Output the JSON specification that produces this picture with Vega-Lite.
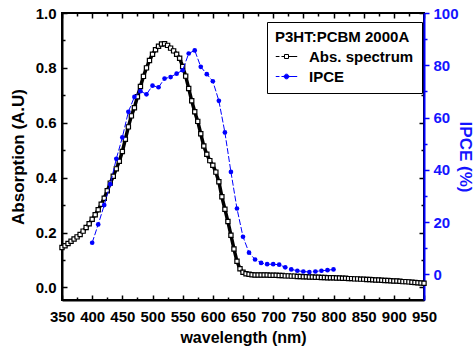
{
 "$schema": "https://vega.github.io/schema/vega-lite/v6.json",
 "width": 362, "height": 287,
 "autosize": "none",
 "padding": {"left": 62, "top": 13, "right": 50, "bottom": 47},
 "background": "white",
 "config": {
  "view": {"stroke": "black", "strokeWidth": 2},
  "font": "Liberation Sans",
  "axis": {"grid": false, "labelFont": "Liberation Sans", "labelFontSize": 15, "labelFontWeight": "bold", "labelColor": "black", "titleFont": "Liberation Sans", "titleFontWeight": "bold", "titleColor": "black", "domainColor": "black", "domainWidth": 2, "tickColor": "black", "tickWidth": 1.5},
  "legend": {"symbolType": {"expr": "datum.value === 'IPCE' ? 'M-1.6,0H-1.05M-0.75,0H1.6M0.35,0A0.35,0.35,0,1,1,-0.35,0A0.35,0.35,0,1,1,0.35,0Z' : 'M-1.6,0H-1.05M-0.75,0H-0.3M0.3,0H1.6M-0.3,-0.3H0.3V0.3H-0.3Z'"}}
 },
 "datasets": {
  "abs": [
   {"wl":350,"a":0.145},{"wl":355,"a":0.152},{"wl":360,"a":0.160},{"wl":365,"a":0.168},{"wl":370,"a":0.176},{"wl":375,"a":0.184},{"wl":380,"a":0.193},{"wl":385,"a":0.205},{"wl":390,"a":0.218},{"wl":395,"a":0.232},
   {"wl":400,"a":0.248},{"wl":405,"a":0.265},{"wl":410,"a":0.283},{"wl":415,"a":0.303},{"wl":420,"a":0.325},{"wl":425,"a":0.352},{"wl":430,"a":0.380},{"wl":435,"a":0.405},{"wl":440,"a":0.432},{"wl":445,"a":0.460},
   {"wl":450,"a":0.495},{"wl":455,"a":0.540},{"wl":460,"a":0.585},{"wl":465,"a":0.625},{"wl":470,"a":0.655},{"wl":475,"a":0.695},{"wl":480,"a":0.732},{"wl":485,"a":0.769},{"wl":490,"a":0.800},{"wl":495,"a":0.827},
   {"wl":500,"a":0.850},{"wl":505,"a":0.866},{"wl":510,"a":0.879},{"wl":515,"a":0.887},{"wl":520,"a":0.888},{"wl":525,"a":0.882},{"wl":530,"a":0.872},{"wl":535,"a":0.862},{"wl":540,"a":0.850},{"wl":545,"a":0.835},
   {"wl":550,"a":0.805},{"wl":555,"a":0.770},{"wl":560,"a":0.725},{"wl":565,"a":0.680},{"wl":570,"a":0.640},{"wl":575,"a":0.605},{"wl":580,"a":0.560},{"wl":585,"a":0.515},{"wl":590,"a":0.485},{"wl":595,"a":0.462},
   {"wl":600,"a":0.445},{"wl":605,"a":0.420},{"wl":610,"a":0.385},{"wl":615,"a":0.330},{"wl":620,"a":0.285},{"wl":625,"a":0.240},{"wl":630,"a":0.190},{"wl":635,"a":0.140},{"wl":640,"a":0.095},{"wl":645,"a":0.068},
   {"wl":650,"a":0.055},{"wl":655,"a":0.050},{"wl":660,"a":0.048},{"wl":665,"a":0.046},{"wl":670,"a":0.045},{"wl":675,"a":0.045},{"wl":680,"a":0.045},{"wl":685,"a":0.045},{"wl":690,"a":0.045},{"wl":695,"a":0.044},
   {"wl":700,"a":0.044},{"wl":705,"a":0.044},{"wl":710,"a":0.043},{"wl":715,"a":0.043},{"wl":720,"a":0.042},{"wl":725,"a":0.042},{"wl":730,"a":0.041},{"wl":735,"a":0.041},{"wl":740,"a":0.040},{"wl":745,"a":0.040},
   {"wl":750,"a":0.039},{"wl":755,"a":0.039},{"wl":760,"a":0.038},{"wl":765,"a":0.038},{"wl":770,"a":0.037},{"wl":775,"a":0.037},{"wl":780,"a":0.036},{"wl":785,"a":0.036},{"wl":790,"a":0.035},{"wl":795,"a":0.035},
   {"wl":800,"a":0.035},{"wl":805,"a":0.034},{"wl":810,"a":0.034},{"wl":815,"a":0.033},{"wl":820,"a":0.033},{"wl":825,"a":0.032},{"wl":830,"a":0.032},{"wl":835,"a":0.031},{"wl":840,"a":0.031},{"wl":845,"a":0.030},
   {"wl":850,"a":0.030},{"wl":855,"a":0.029},{"wl":860,"a":0.029},{"wl":865,"a":0.028},{"wl":870,"a":0.027},{"wl":875,"a":0.027},{"wl":880,"a":0.026},{"wl":885,"a":0.025},{"wl":890,"a":0.025},{"wl":895,"a":0.024},
   {"wl":900,"a":0.023},{"wl":905,"a":0.023},{"wl":910,"a":0.022},{"wl":915,"a":0.021},{"wl":920,"a":0.021},{"wl":925,"a":0.020},{"wl":930,"a":0.019},{"wl":935,"a":0.018},{"wl":940,"a":0.017},{"wl":945,"a":0.016},
   {"wl":950,"a":0.015}
  ],
  "ipce": [
   {"wl":400,"p":12.1},{"wl":410,"p":19.1},{"wl":420,"p":26.5},{"wl":430,"p":34.5},{"wl":440,"p":44.2},{"wl":450,"p":52.4},{"wl":460,"p":62.2},{"wl":470,"p":67.9},{"wl":480,"p":70.1},{"wl":490,"p":68.9},
   {"wl":500,"p":72.2},{"wl":510,"p":71.6},{"wl":520,"p":74.9},{"wl":530,"p":75.5},{"wl":540,"p":76.8},{"wl":550,"p":78.1},{"wl":560,"p":84.5},{"wl":570,"p":85.7},{"wl":580,"p":79.4},{"wl":590,"p":76.6},
   {"wl":600,"p":73.9},{"wl":610,"p":66.4},{"wl":620,"p":54.3},{"wl":630,"p":39.2},{"wl":640,"p":25.2},{"wl":650,"p":14.4},{"wl":660,"p":8.3},{"wl":670,"p":5.7},{"wl":680,"p":4.4},{"wl":690,"p":3.9},
   {"wl":700,"p":3.9},{"wl":710,"p":3.7},{"wl":720,"p":2.7},{"wl":730,"p":1.9},{"wl":740,"p":1.4},{"wl":750,"p":1.1},{"wl":760,"p":0.9},{"wl":770,"p":1.1},{"wl":780,"p":1.4},{"wl":790,"p":1.6},
   {"wl":800,"p":1.9}
  ]
 },
 "layer": [
  {
   "data": {"name": "abs"},
   "mark": {"type": "line", "color": "black", "strokeWidth": 3.5},
   "encoding": {
    "x": {"field": "wl", "type": "quantitative", "scale": {"domain": [350, 950], "nice": false, "zero": false},
     "axis": {"orient": "bottom", "title": "wavelength (nm)", "titleFontSize": 16, "titlePadding": 5, "values": [350,400,450,500,550,600,650,700,750,800,850,900,950], "tickSize": -5, "labelPadding": 14, "labelFlush": false, "labelOverlap": false}},
    "y": {"field": "a", "type": "quantitative", "scale": {"domain": [-0.046, 1.0], "nice": false, "zero": false},
     "axis": {"orient": "left", "title": "Absorption (A.U)", "titleFontSize": 17, "titlePadding": 8, "values": [0, 0.2, 0.4, 0.6, 0.8, 1.0], "format": ".1f", "tickSize": -5, "labelPadding": 11, "labelFlush": false, "labelOverlap": false}}
   }
  },
  {
   "data": {"name": "abs"},
   "transform": [{"calculate": "'Abs. spectrum'", "as": "series"}],
   "mark": {"type": "point", "shape": "square", "filled": false, "size": 18, "strokeWidth": 1.2, "opacity": 1},
   "encoding": {
    "x": {"field": "wl", "type": "quantitative", "scale": {"domain": [350, 950], "nice": false, "zero": false},
     "axis": {"orient": "bottom", "title": null, "values": [375,425,475,525,575,625,675,725,775,825,875,925], "tickSize": -3, "labels": false, "domain": false}},
    "y": {"field": "a", "type": "quantitative", "scale": {"domain": [-0.046, 1.0], "nice": false, "zero": false},
     "axis": {"orient": "left", "title": null, "values": [0.1, 0.3, 0.5, 0.7, 0.9], "tickSize": -3, "labels": false, "domain": false}},
    "fill": {"field": "series", "type": "nominal", "scale": {"domain": ["Abs. spectrum", "IPCE"], "range": ["white", "#0000ff"]},
     "legend": {"title": "P3HT:PCBM 2000A", "orient": "none", "legendX": 205, "legendY": 9, "strokeColor": "black", "fillColor": "white", "padding": 8, "titleFont": "Liberation Sans", "titleFontSize": 15, "titleFontWeight": "bold", "titleColor": "black", "titlePadding": 4, "labelFont": "Liberation Sans", "labelFontSize": 15, "labelFontWeight": "bold", "labelColor": "black", "symbolSize": 180, "symbolOffset": 4, "labelOffset": 15, "rowPadding": 4, "symbolStrokeWidth": 1}},
    "stroke": {"field": "series", "type": "nominal", "scale": {"domain": ["Abs. spectrum", "IPCE"], "range": ["black", "#0000ff"]},
     "legend": {"title": "P3HT:PCBM 2000A", "orient": "none", "legendX": 205, "legendY": 9, "strokeColor": "black", "fillColor": "white", "padding": 8, "titleFont": "Liberation Sans", "titleFontSize": 15, "titleFontWeight": "bold", "titleColor": "black", "titlePadding": 4, "labelFont": "Liberation Sans", "labelFontSize": 15, "labelFontWeight": "bold", "labelColor": "black", "symbolSize": 180, "symbolOffset": 4, "labelOffset": 15, "rowPadding": 4, "symbolStrokeWidth": 1}}
   }
  },
  {
   "data": {"name": "abs"},
   "mark": {"type": "point", "opacity": 0},
   "encoding": {
    "x": {"field": "wl", "type": "quantitative", "scale": {"domain": [350, 950], "nice": false, "zero": false},
     "axis": {"orient": "top", "title": null, "values": [350,400,450,500,550,600,650,700,750,800,850,900,950], "tickSize": -5, "labels": false, "domain": false}},
    "y": {"field": "a", "type": "quantitative", "scale": {"domain": [-0.046, 1.0], "nice": false, "zero": false},
     "axis": {"orient": "right", "title": null, "values": [0, 0.2, 0.4, 0.6, 0.8, 1.0], "tickSize": -5, "labels": false, "domain": false}}
   }
  },
  {
   "data": {"name": "abs"},
   "mark": {"type": "point", "opacity": 0},
   "encoding": {
    "x": {"field": "wl", "type": "quantitative", "scale": {"domain": [350, 950], "nice": false, "zero": false},
     "axis": {"orient": "top", "title": null, "values": [375,425,475,525,575,625,675,725,775,825,875,925], "tickSize": -3, "labels": false, "domain": false}},
    "y": {"field": "a", "type": "quantitative", "scale": {"domain": [-0.046, 1.0], "nice": false, "zero": false},
     "axis": {"orient": "right", "title": null, "values": [0.1, 0.3, 0.5, 0.7, 0.9], "tickSize": -3, "labels": false, "domain": false}}
   }
  },
  {
   "data": {"name": "ipce"},
   "mark": {"type": "line", "color": "#0000ff", "strokeWidth": 1, "strokeDash": [6, 2]},
   "encoding": {
    "x": {"field": "wl", "type": "quantitative", "scale": {"domain": [350, 950], "nice": false, "zero": false}, "axis": null},
    "y": {"field": "p", "type": "quantitative", "scale": {"domain": [-9.8, 100], "nice": false, "zero": false},
     "axis": {"orient": "right", "title": "IPCE (%)", "titleColor": "#1414ff", "titleFontSize": 17, "titleX": 40, "titleY": 143.5, "titleBaseline": "middle", "titleAngle": 90, "values": [0, 20, 40, 60, 80, 100], "tickSize": 5, "tickColor": "#0000ff", "labelColor": "#1414ff", "labelPadding": 4, "domainColor": "#0000ff", "labelFlush": false, "labelOverlap": false}}
   }
  },
  {
   "data": {"name": "ipce"},
   "transform": [{"calculate": "'IPCE'", "as": "series"}],
   "mark": {"type": "point", "shape": "circle", "filled": true, "size": 22, "strokeWidth": 0, "opacity": 1},
   "encoding": {
    "x": {"field": "wl", "type": "quantitative", "scale": {"domain": [350, 950], "nice": false, "zero": false}, "axis": null},
    "y": {"field": "p", "type": "quantitative", "scale": {"domain": [-9.8, 100], "nice": false, "zero": false},
     "axis": {"orient": "right", "title": null, "values": [10, 30, 50, 70, 90], "tickSize": 3, "tickColor": "#0000ff", "labels": false, "domain": false}},
    "stroke": {"field": "series", "type": "nominal"},
    "fill": {"field": "series", "type": "nominal"}
   }
  }
 ],
 "resolve": {"scale": {"y": "independent"}, "axis": {"x": "independent", "y": "independent"}}
}
